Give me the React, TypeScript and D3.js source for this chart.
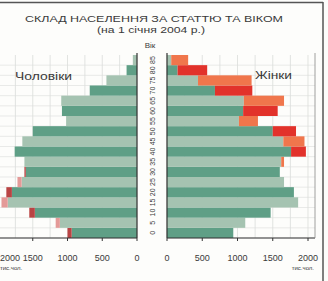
import React from "react";
import * as d3 from "d3";

const ageGroups = ["0", "5", "10", "15", "20", "25", "30", "35", "40", "45", "50", "55", "60", "65", "70", "75", "80", "85"];
const males = [1000, 1170, 1550, 1950, 1880, 1720, 1620, 1620, 1760, 1650, 1500, 1020, 1080, 1090, 680, 440, 150, 60];
const females = [940, 1110, 1470, 1860, 1800, 1660, 1600, 1660, 1970, 1950, 1830, 1290, 1570, 1660, 1210, 1200, 570, 300];
const ticks = [0, 500, 1000, 1500, 2000];
const gridTicks = d3.range(0, 2001, 250);

const W = 328, H = 281;
const TOP = 55, BOTTOM = 238;
const LZERO = 137, RZERO = 167;

export default function App() {
  const y = d3.scaleBand<string>().domain([...ageGroups].reverse()).range([TOP, BOTTOM]).padding(0);
  const xl = d3.scaleLinear().domain([0, 2000]).range([LZERO, LZERO - 139]);
  const xr = d3.scaleLinear().domain([0, 2000]).range([RZERO, RZERO + 141]);
  const bh = y.bandwidth();
  const font = "'Liberation Sans', Arial, sans-serif";
  const txt = "#3a3a3a";

  return (
    <svg width={W} height={H} style={{ position: "absolute", left: 0, top: 0, background: "#fdfdfb" }}>
      {/* frame */}
      <line x1={0} x2={323} y1={2.5} y2={2.5} stroke="#555" strokeWidth={1.5} />
      <line x1={323} x2={323} y1={2} y2={H} stroke="#555" strokeWidth={1.5} />

      {/* title */}
      <text x={154} y={22} textAnchor="middle" fontFamily={font} fontSize={9.5} textLength={258} lengthAdjust="spacingAndGlyphs" fill={txt}>СКЛАД НАСЕЛЕННЯ ЗА СТАТТЮ ТА ВІКОМ</text>
      <text x={151} y={33} textAnchor="middle" fontFamily={font} fontSize={9} textLength={108} lengthAdjust="spacingAndGlyphs" fill={txt}>(на 1 січня 2004 р.)</text>
      <text x={150} y={48} textAnchor="middle" fontFamily={font} fontSize={8} fill={txt}>Вік</text>

      {/* grid */}
      {gridTicks.map((t) => (
        <g key={"g" + t}>
          <line x1={xl(t)} x2={xl(t)} y1={TOP} y2={BOTTOM} stroke="#d6d9d6" strokeWidth={0.7} />
          <line x1={xr(t)} x2={xr(t)} y1={TOP} y2={BOTTOM} stroke="#d6d9d6" strokeWidth={0.7} />
        </g>
      ))}
      {ageGroups.map((a) => (
        <g key={"h" + a}>
          <line x1={0} x2={LZERO} y1={(y(a) as number) + bh} y2={(y(a) as number) + bh} stroke="#dcdedc" strokeWidth={0.6} />
          <line x1={RZERO} x2={315} y1={(y(a) as number) + bh} y2={(y(a) as number) + bh} stroke="#dcdedc" strokeWidth={0.6} />
        </g>
      ))}

      {/* bars */}
      {ageGroups.map((a, i) => {
        const yy = y(a) as number;
        const m = males[i], f = females[i];
        const common = Math.min(m, f);
        const even = i % 2 === 0;
        const green = even ? "#5f9f86" : "#a5c3b1";
        const fRed = even ? "#e2322b" : "#f0764c";
        const mRed = even ? "#b94444" : "#e49a98";
        return (
          <g key={"b" + a}>
            <rect x={xl(common)} y={yy} width={LZERO - xl(common)} height={bh} fill={green} />
            {m > f && <rect x={xl(m)} y={yy} width={xl(f) - xl(m)} height={bh} fill={mRed} />}
            <rect x={RZERO} y={yy} width={xr(common) - RZERO} height={bh} fill={green} />
            {f > m && <rect x={xr(m)} y={yy} width={xr(f) - xr(m)} height={bh} fill={fRed} />}
            <text
              transform={`translate(${152},${yy + bh / 2}) rotate(-90)`}
              textAnchor="middle"
              dominantBaseline="central"
              fontFamily={font}
              fontSize={7}
              fill={txt}
            >
              {a}
            </text>
          </g>
        );
      })}

      {/* axes */}
      <line x1={LZERO} x2={LZERO} y1={TOP - 2} y2={BOTTOM} stroke="#333" strokeWidth={1.2} />
      <line x1={RZERO} x2={RZERO} y1={TOP - 2} y2={BOTTOM} stroke="#333" strokeWidth={1.2} />
      <line x1={0} x2={LZERO} y1={BOTTOM} y2={BOTTOM} stroke="#333" strokeWidth={1.2} />
      <line x1={RZERO} x2={315} y1={BOTTOM} y2={BOTTOM} stroke="#333" strokeWidth={1.2} />
      <line x1={315} x2={315} y1={TOP - 2} y2={BOTTOM} stroke="#888" strokeWidth={0.8} />
      {ticks.map((t) => (
        <g key={"t" + t}>
          <line x1={xl(t)} x2={xl(t)} y1={BOTTOM} y2={BOTTOM + 3} stroke="#333" />
          <line x1={xr(t)} x2={xr(t)} y1={BOTTOM} y2={BOTTOM + 3} stroke="#333" />
          <text
            x={t === 2000 ? 0 : xl(t)}
            y={261}
            textAnchor={t === 2000 ? "start" : "middle"}
            fontFamily={font}
            fontSize={9}
            fill={txt}
          >
            {t}
          </text>
          <text x={xr(t)} y={261} textAnchor="middle" fontFamily={font} fontSize={9} fill={txt}>{t}</text>
        </g>
      ))}
      <text x={0} y={270} fontFamily={font} fontSize={6} fill={txt}>тис.чол.</text>
      <text x={314} y={270} textAnchor="end" fontFamily={font} fontSize={6} fill={txt}>тис.чол.</text>

      {/* sex labels */}
      <text x={15} y={80} fontFamily={font} fontSize={11} textLength={57} lengthAdjust="spacingAndGlyphs" fill={txt}>Чоловіки</text>
      <text x={255} y={79} fontFamily={font} fontSize={11} textLength={37} lengthAdjust="spacingAndGlyphs" fill={txt}>Жінки</text>
    </svg>
  );
}
